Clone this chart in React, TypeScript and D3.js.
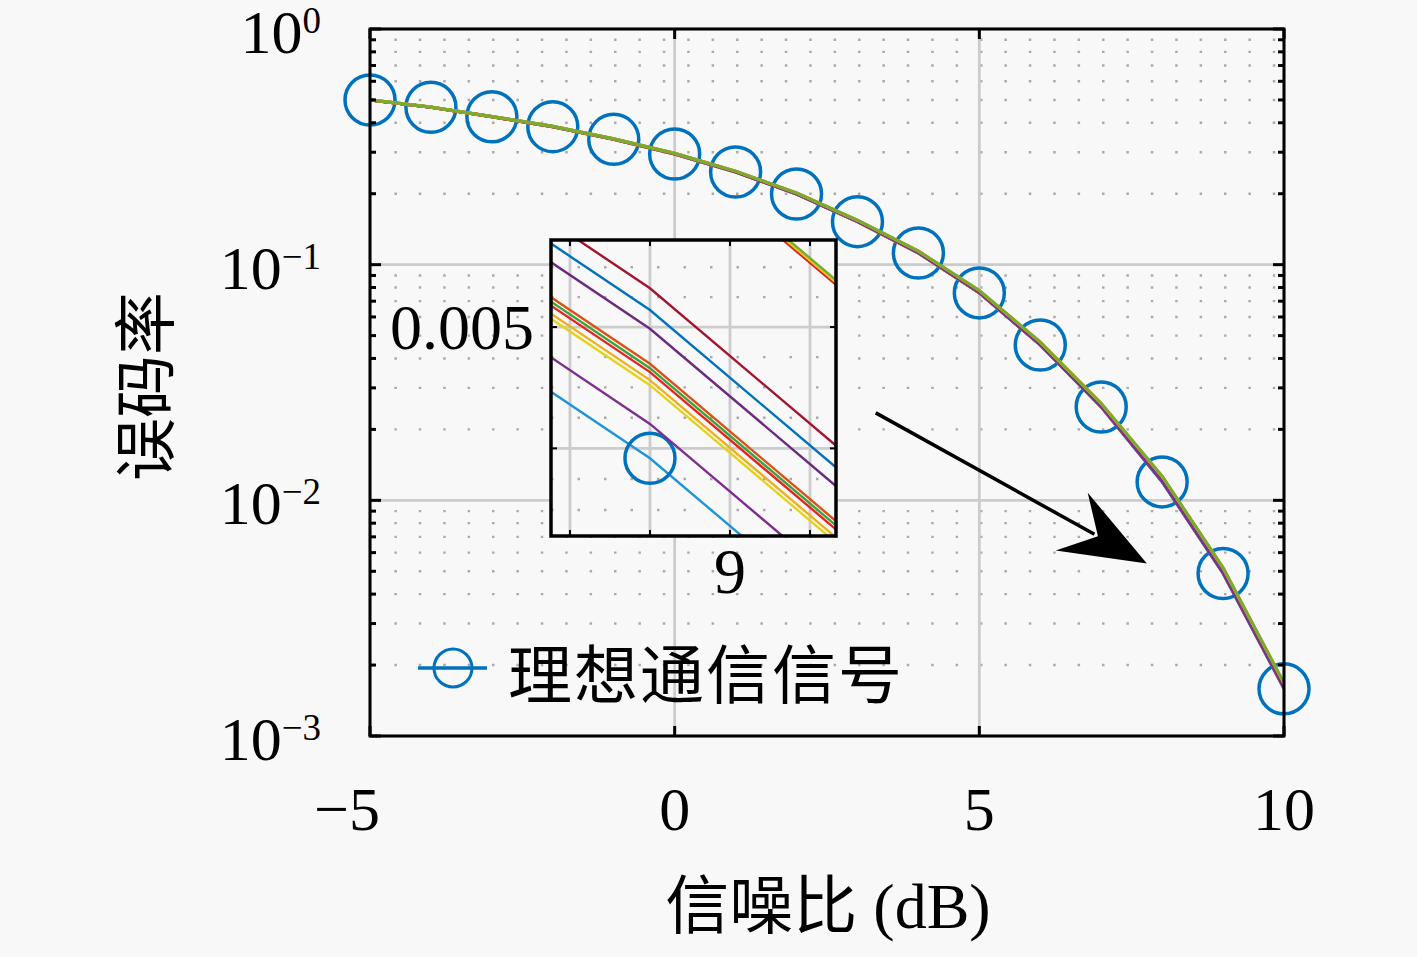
import { useEffect, useRef } from "react";
import * as d3 from "d3";

// SNR points (dB)
const snr = [-5, -4, -3, -2, -1, 0, 1, 2, 3, 4, 5, 6, 7, 8, 9, 10];

// ideal signal (marker series)
const idealBer = [0.4997, 0.4654, 0.4244, 0.385, 0.3404, 0.2949, 0.2473, 0.1995, 0.1522, 0.1121, 0.0759, 0.0456, 0.0249, 0.01197, 0.0048919, 0.001585];

// other curves, only separable in the zoomed inset
const berCrimson = [0.5001, 0.466, 0.4251, 0.3858, 0.3413, 0.296, 0.2484, 0.2006, 0.1533, 0.1131, 0.0768, 0.0463, 0.02535, 0.012314, 0.0050324, 0.0016305];
const berBlue = [0.4999, 0.4657, 0.4248, 0.3855, 0.3409, 0.2955, 0.2479, 0.2001, 0.1528, 0.1127, 0.07641, 0.046, 0.02519, 0.012269, 0.0050142, 0.0016246];
const berPurple = [0.4998, 0.4656, 0.4246, 0.3853, 0.3407, 0.2953, 0.2477, 0.1999, 0.1526, 0.1125, 0.07625, 0.0459, 0.02512, 0.012231, 0.0049986, 0.0016196];
const berOrange = [0.4996, 0.4654, 0.4244, 0.3851, 0.3405, 0.2951, 0.2475, 0.1997, 0.1524, 0.1123, 0.07608, 0.04576, 0.02502, 0.01216, 0.0049695, 0.0016102];
const berGreen = [0.4997, 0.4655, 0.4245, 0.3851, 0.3405, 0.295, 0.2475, 0.1997, 0.1524, 0.1123, 0.07606, 0.04575, 0.02501, 0.012151, 0.0049659, 0.001609];
const berRed = [0.4996, 0.4654, 0.4244, 0.385, 0.3405, 0.295, 0.2474, 0.1996, 0.1523, 0.1122, 0.07604, 0.04573, 0.025, 0.012143, 0.0049626, 0.0016079];
const berYellow = [0.4996, 0.4653, 0.4244, 0.385, 0.3404, 0.295, 0.2474, 0.1996, 0.1523, 0.1122, 0.076, 0.0457, 0.02498, 0.012127, 0.004956, 0.0016058];
const berGold = [0.4995, 0.4653, 0.4243, 0.3849, 0.3404, 0.2949, 0.2473, 0.1995, 0.1522, 0.1122, 0.07598, 0.04568, 0.02496, 0.012117, 0.0049518, 0.0016044];
const berViolet = [0.4995, 0.4652, 0.4242, 0.3848, 0.3403, 0.2948, 0.2472, 0.1994, 0.1521, 0.1121, 0.07592, 0.04563, 0.02492, 0.012039, 0.00492, 0.0015941];
const berTopRed = [0.5004, 0.4664, 0.4256, 0.3864, 0.342, 0.2968, 0.2493, 0.2015, 0.1543, 0.1141, 0.0776, 0.0469, 0.02575, 0.012648, 0.005169, 0.0016748];
const berTopYellow = [0.5004, 0.4664, 0.4257, 0.3865, 0.3421, 0.2968, 0.2494, 0.2016, 0.1543, 0.1141, 0.07763, 0.04692, 0.02576, 0.012653, 0.005171, 0.0016754];
const berTopGreen = [0.5005, 0.4665, 0.4257, 0.3865, 0.3421, 0.2969, 0.2494, 0.2016, 0.1544, 0.1142, 0.07766, 0.04694, 0.02578, 0.012658, 0.005173, 0.0016761];

const xTicks = [-5, 0, 5, 10];
const yTicks = [1, 0.1, 0.01, 0.001];
const yTickExponents = ["0", "\u22121", "\u22122", "\u22123"];

// inset (zoom around 9 dB)
const insetXDomain = [8.98763, 9.02325];
const insetYDomain = [0.004829, 0.005073];
const insetXTicks = [8.99, 9, 9.01, 9.02];
const insetXTickLabels = ["", "", "9", ""];
const insetYTicks = [0.0049, 0.005];
const insetYTickLabels = ["", "0.005"];

// arrow annotation, data coords [snr, ber]
const arrowFrom = [3.3, 0.0235];
const arrowTo = [7.75, 0.0054];

const legendLabel = "理想通信信号";
const xLabel = "信噪比 (dB)";
const yLabel = "误码率";

const W = 1417;
const H = 957;
const BG = "#f8f8f8";
const SERIF = "'Liberation Serif', 'DejaVu Serif', serif";
const CJK = "'Noto Sans CJK SC', sans-serif";
const IDEAL_COLOR = "#0072BD";

export default function App() {
  const ref = useRef<SVGSVGElement>(null);

  useEffect(() => {
    if (!ref.current) return;
    const svg = d3.select(ref.current);
    svg.selectAll("*").remove();

    const plot = { left: 370, right: 1284, top: 29, bottom: 736 };
    const inset = { left: 551, right: 836, top: 240, bottom: 536 };

    const x = d3.scaleLinear().domain([-5, 10]).range([plot.left, plot.right]);
    const y = d3.scaleLog().domain([0.001, 1]).range([plot.bottom, plot.top]);
    const ix = d3.scaleLinear().domain(insetXDomain).range([inset.left, inset.right]);
    const iy = d3.scaleLog().domain(insetYDomain).range([inset.bottom, inset.top]);

    const series = [
      { values: berCrimson, color: "#A2142F" },
      { values: berBlue, color: "#0072BD" },
      { values: berPurple, color: "#6a2a7e" },
      { values: berOrange, color: "#D95319" },
      { values: berGreen, color: "#3ca33c" },
      { values: berRed, color: "#e8231e" },
      { values: berYellow, color: "#EDB120" },
      { values: berGold, color: "#e6d21a" },
      { values: berViolet, color: "#7E2F8E" },
      { values: berTopRed, color: "#e02020" },
      { values: berTopYellow, color: "#e8c820" },
      { values: berTopGreen, color: "#77AC30" },
    ];

    svg.append("rect").attr("width", W).attr("height", H).attr("fill", BG);

    const defs = svg.append("defs");
    defs.append("clipPath").attr("id", "main-clip").append("rect")
      .attr("x", plot.left).attr("y", plot.top)
      .attr("width", plot.right - plot.left).attr("height", plot.bottom - plot.top);
    defs.append("clipPath").attr("id", "inset-clip").append("rect")
      .attr("x", inset.left).attr("y", inset.top)
      .attr("width", inset.right - inset.left).attr("height", inset.bottom - inset.top);

    // main grid
    const minorY = y.ticks().filter((v) => Math.abs(Math.log10(v) - Math.round(Math.log10(v))) > 1e-6);
    svg.append("g").selectAll("line").data(minorY).join("line")
      .attr("x1", plot.left).attr("x2", plot.right)
      .attr("y1", (d) => y(d)).attr("y2", (d) => y(d))
      .attr("stroke", "#aaaaaa").attr("stroke-width", 2.4)
      .attr("stroke-dasharray", "2.5 21.9");
    svg.append("g").selectAll("line").data(yTicks).join("line")
      .attr("x1", plot.left).attr("x2", plot.right)
      .attr("y1", (d) => y(d)).attr("y2", (d) => y(d))
      .attr("stroke", "#cccccc").attr("stroke-width", 2.8);
    svg.append("g").selectAll("line").data(xTicks).join("line")
      .attr("x1", (d) => x(d)).attr("x2", (d) => x(d))
      .attr("y1", plot.top).attr("y2", plot.bottom)
      .attr("stroke", "#cccccc").attr("stroke-width", 2.8);

    const mainLine = d3.line<number>().x((_, i) => x(snr[i])).y((d) => y(d));

    svg.append("path").attr("d", mainLine(idealBer))
      .attr("clip-path", "url(#main-clip)")
      .attr("fill", "none").attr("stroke", IDEAL_COLOR).attr("stroke-width", 3);

    svg.append("g").selectAll("circle").data(idealBer).join("circle")
      .attr("cx", (_, i) => x(snr[i])).attr("cy", (d) => y(d)).attr("r", 25)
      .attr("fill", "none").attr("stroke", IDEAL_COLOR).attr("stroke-width", 3.5);

    const mainLines = svg.append("g").attr("clip-path", "url(#main-clip)");
    series.forEach((s) => {
      mainLines.append("path").attr("d", mainLine(s.values))
        .attr("fill", "none").attr("stroke", s.color).attr("stroke-width", 3);
    });

    // frame and ticks
    svg.append("rect")
      .attr("x", plot.left).attr("y", plot.top)
      .attr("width", plot.right - plot.left).attr("height", plot.bottom - plot.top)
      .attr("fill", "none").attr("stroke", "#000").attr("stroke-width", 3);
    const ticks = svg.append("g").attr("stroke", "#000").attr("stroke-width", 3);
    xTicks.forEach((v) => {
      ticks.append("line").attr("x1", x(v)).attr("x2", x(v)).attr("y1", plot.bottom).attr("y2", plot.bottom - 10);
      ticks.append("line").attr("x1", x(v)).attr("x2", x(v)).attr("y1", plot.top).attr("y2", plot.top + 10);
    });
    y.ticks().forEach((v) => {
      const len = minorY.includes(v) ? 6 : 11;
      ticks.append("line").attr("x1", plot.left).attr("x2", plot.left + len).attr("y1", y(v)).attr("y2", y(v));
      ticks.append("line").attr("x1", plot.right).attr("x2", plot.right - len).attr("y1", y(v)).attr("y2", y(v));
    });

    // tick labels
    svg.append("g").selectAll("text").data(xTicks).join("text")
      .attr("x", (d) => (d < 0 ? x(d) + 10 : x(d)))
      .attr("y", 830)
      .attr("text-anchor", (d) => (d < 0 ? "end" : "middle"))
      .style("font-family", SERIF).style("font-size", "62px")
      .text((d) => (d < 0 ? `\u2212${Math.abs(d)}` : `${d}`));

    yTicks.forEach((v, i) => {
      const t = svg.append("text")
        .attr("x", 321).attr("y", y(v) + 24)
        .attr("text-anchor", "end")
        .style("font-family", SERIF).style("font-size", "62px")
        .text("10");
      t.append("tspan").attr("dy", -20).style("font-size", "37px").text(yTickExponents[i]);
    });

    // axis titles
    svg.append("text")
      .attr("transform", `translate(140, ${(plot.top + plot.bottom) / 2 + 4}) rotate(-90)`)
      .attr("text-anchor", "middle").attr("dominant-baseline", "central")
      .style("font-family", CJK).style("font-size", "63px")
      .text(yLabel);
    svg.append("text")
      .attr("x", 828).attr("y", 906)
      .attr("text-anchor", "middle").attr("dominant-baseline", "central")
      .style("font-family", `${SERIF.split(",")[0]}, ${CJK}`).style("font-size", "64px")
      .text(xLabel);

    // legend
    const legend = svg.append("g").attr("transform", "translate(418, 668)");
    legend.append("line").attr("x1", 0).attr("x2", 69).attr("y1", 0).attr("y2", 0)
      .attr("stroke", IDEAL_COLOR).attr("stroke-width", 3.5);
    legend.append("circle").attr("cx", 35).attr("cy", 0).attr("r", 19)
      .attr("fill", "none").attr("stroke", IDEAL_COLOR).attr("stroke-width", 3);
    legend.append("text").attr("x", 90).attr("y", 2)
      .attr("dominant-baseline", "central")
      .style("font-family", CJK).style("font-size", "64px").style("letter-spacing", "2px")
      .text(legendLabel);

    // inset
    svg.append("rect")
      .attr("x", inset.left).attr("y", inset.top)
      .attr("width", inset.right - inset.left).attr("height", inset.bottom - inset.top)
      .attr("fill", BG);
    const ig = svg.append("g").attr("clip-path", "url(#inset-clip)");
    const insetMinorY = d3.range(0.004825, 0.0050751, 0.000025)
      .filter((v) => !insetYTicks.some((t) => Math.abs(t - v) < 1e-8));
    ig.selectAll(".iminor").data(insetMinorY).join("line").attr("class", "iminor")
      .attr("x1", inset.left).attr("x2", inset.right)
      .attr("y1", (d) => iy(d)).attr("y2", (d) => iy(d))
      .attr("stroke", "#aaaaaa").attr("stroke-width", 2.4)
      .attr("stroke-dasharray", "2.5 24");
    ig.selectAll(".imajor-y").data(insetYTicks).join("line").attr("class", "imajor-y")
      .attr("x1", inset.left).attr("x2", inset.right)
      .attr("y1", (d) => iy(d)).attr("y2", (d) => iy(d))
      .attr("stroke", "#cccccc").attr("stroke-width", 2.8);
    ig.selectAll(".imajor-x").data(insetXTicks).join("line").attr("class", "imajor-x")
      .attr("x1", (d) => ix(d)).attr("x2", (d) => ix(d))
      .attr("y1", inset.top).attr("y2", inset.bottom)
      .attr("stroke", "#cccccc").attr("stroke-width", 2.8);

    const insetLine = d3.line<number>().x((_, i) => ix(snr[i])).y((d) => iy(d));
    ig.append("path").attr("d", insetLine(idealBer))
      .attr("fill", "none").attr("stroke", "#1f95d8").attr("stroke-width", 2.4);
    ig.selectAll("circle").data(idealBer).join("circle")
      .attr("cx", (_, i) => ix(snr[i])).attr("cy", (d) => iy(d)).attr("r", 25)
      .attr("fill", "none").attr("stroke", IDEAL_COLOR).attr("stroke-width", 3.5);
    series.forEach((s) => {
      ig.append("path").attr("d", insetLine(s.values))
        .attr("fill", "none").attr("stroke", s.color).attr("stroke-width", 2.4);
    });

    svg.append("rect")
      .attr("x", inset.left).attr("y", inset.top)
      .attr("width", inset.right - inset.left).attr("height", inset.bottom - inset.top)
      .attr("fill", "none").attr("stroke", "#000").attr("stroke-width", 3.5);
    const iticks = svg.append("g").attr("stroke", "#000").attr("stroke-width", 2);
    insetXTicks.forEach((v) => {
      iticks.append("line").attr("x1", ix(v)).attr("x2", ix(v)).attr("y1", inset.bottom).attr("y2", inset.bottom - 6);
      iticks.append("line").attr("x1", ix(v)).attr("x2", ix(v)).attr("y1", inset.top).attr("y2", inset.top + 6);
    });
    insetYTicks.forEach((v) => {
      iticks.append("line").attr("x1", inset.left).attr("x2", inset.left + 6).attr("y1", iy(v)).attr("y2", iy(v));
      iticks.append("line").attr("x1", inset.right).attr("x2", inset.right - 6).attr("y1", iy(v)).attr("y2", iy(v));
    });
    svg.append("g").selectAll("text").data(insetXTicks).join("text")
      .attr("x", (d) => ix(d)).attr("y", 593)
      .attr("text-anchor", "middle")
      .style("font-family", SERIF).style("font-size", "64px")
      .text((_, i) => insetXTickLabels[i]);
    svg.append("g").selectAll("text").data(insetYTicks).join("text")
      .attr("x", inset.left - 17).attr("y", (d) => iy(d) + 22)
      .attr("text-anchor", "end")
      .style("font-family", SERIF).style("font-size", "64px")
      .text((_, i) => insetYTickLabels[i]);

    // arrow
    const p0 = [x(arrowFrom[0]), y(arrowFrom[1])];
    const p1 = [x(arrowTo[0]), y(arrowTo[1])];
    const len = Math.hypot(p1[0] - p0[0], p1[1] - p0[1]);
    const ux = (p0[0] - p1[0]) / len;
    const uy = (p0[1] - p1[1]) / len;
    const nx = -uy;
    const ny = ux;
    const pt = (along: number, perp: number) =>
      [p1[0] + ux * along + nx * perp, p1[1] + uy * along + ny * perp];
    svg.append("line")
      .attr("x1", p0[0]).attr("y1", p0[1])
      .attr("x2", pt(60, 0)[0]).attr("y2", pt(60, 0)[1])
      .attr("stroke", "#000").attr("stroke-width", 3.5);
    const head = [pt(0, 0), pt(86, 33), pt(56, 0), pt(86, -33)];
    svg.append("path")
      .attr("d", `M${head.map((p) => p.join(",")).join("L")}Z`)
      .attr("fill", "#000");
  }, []);

  return (
    <svg
      ref={ref}
      width={W}
      height={H}
      style={{ position: "absolute", left: 0, top: 0, display: "block" }}
    ></svg>
  );
}
